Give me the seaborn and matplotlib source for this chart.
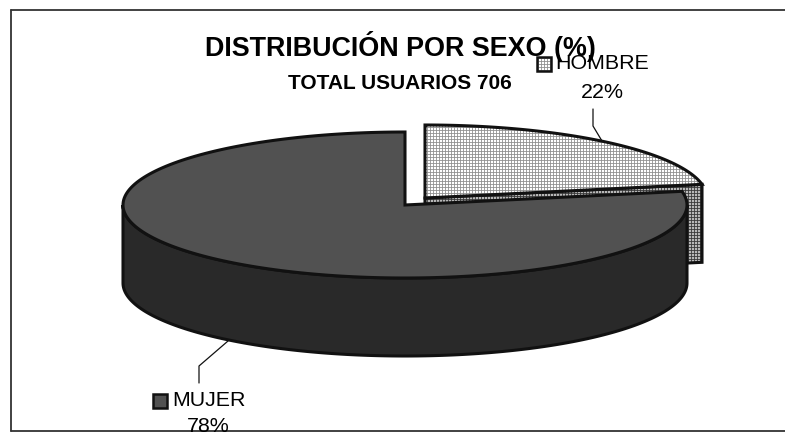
import numpy as np
import matplotlib.pyplot as plt
import seaborn as sns

# values
categories = ["HOMBRE", "MUJER"]
shares = [22, 78]
title = "DISTRIBUCIÓN POR SEXO (%)"
subtitle = "TOTAL USUARIOS 706"

# at 108 dpi the hatch tile is 108 px, so the grids land on whole pixels
DPI = 108
PT = 100 / DPI

sns.set_theme(style="white")
plt.rcParams["font.family"] = ["Liberation Sans", "DejaVu Sans"]
plt.rcParams["hatch.linewidth"] = 0.6 * PT

RX, RY, DEPTH = 282, 73, 78
LINE = "#111111"
GRID = "++++++"
FINE = "+++++++++"


def arc(cx, cy, start, end):
    t = np.radians(np.linspace(start, end, 200))
    return cx + RX * np.cos(t), cy - RY * np.sin(t)


def shape(x, y, face, hatch, hatch_color, lw=2.2):
    # hatch takes the edge colour, so the outline goes on separately
    ax.fill(x, y, facecolor=face, edgecolor=hatch_color, lw=0, hatch=hatch)
    ax.fill(x, y, facecolor="none", edgecolor=LINE, lw=lw * PT)


fig = plt.figure(figsize=(785 / DPI, 443 / DPI), dpi=DPI)
ax = fig.add_axes([0, 0, 1, 1])
ax.set_xlim(0, 785)
ax.set_ylim(443, 0)
ax.axis("off")

# slices run clockwise from 12 o'clock
cut = 90 - shares[0] / sum(shares) * 360

# hombre, pulled out from the pie
hx, hy = 425, 198
hax, hay = arc(hx, hy, 90, cut)
shape([hx, hax[-1], hax[-1], hx], [hy, hay[-1], hay[-1] + DEPTH, hy + DEPTH],
      "#b8b8b8", GRID, "#3a3a3a")
shape(np.r_[hx, hax], np.r_[hy, hay], "white", GRID, "#909090")

# mujer
mx, my = 405, 205
bx, by = arc(mx, my, 180, 360)
shape(np.r_[bx, bx[::-1]], np.r_[by, by[::-1] + DEPTH], "#3a3a3a", FINE, "#262626")
tx, ty = arc(mx, my, cut, -270)
shape(np.r_[mx, tx], np.r_[my, ty], "#707070", FINE, "#4c4c4c")

# leader lines
ax.plot([593, 593, 602], [109, 126, 141], color=LINE, lw=0.9 * PT)
ax.plot([199, 199, 228], [383, 366, 341], color=LINE, lw=0.9 * PT)

# frame
ax.plot([11, 11], [10, 431], color="#333333", lw=1.3 * PT)
ax.plot([11, 785], [10, 10], color="#333333", lw=1.3 * PT)
ax.plot([11, 785], [431, 431], color="#333333", lw=1.3 * PT)

ax.text(400, 46, title, ha="center", va="center", fontsize=19.4 * PT, fontweight="bold",
        color="black")
ax.text(400, 83, subtitle, ha="center", va="center", fontsize=15 * PT, fontweight="bold",
        color="black")

shape([537, 551, 551, 537], [57, 57, 71, 71], "white", GRID, "#909090", lw=1.8)
ax.text(555, 63, categories[0], ha="left", va="center", fontsize=15.4 * PT, color="black")
ax.text(602, 92, f"{shares[0]}%", ha="center", va="center", fontsize=15.4 * PT, color="black")

shape([153, 167, 167, 153], [394, 394, 408, 408], "#707070", FINE, "#4c4c4c", lw=1.8)
ax.text(172, 400, categories[1], ha="left", va="center", fontsize=15.4 * PT, color="black")
ax.text(208, 427, f"{shares[1]}%", ha="center", va="center", fontsize=15.4 * PT, color="black")

fig.savefig("out.png", dpi=DPI)
